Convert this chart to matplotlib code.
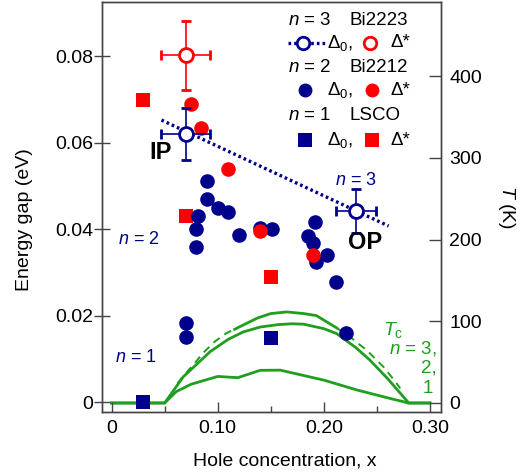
import matplotlib
matplotlib.use('Agg')
import matplotlib.pyplot as plt

plt.rcParams['font.family'] = ['Liberation Sans', 'DejaVu Sans']
plt.rcParams['mathtext.fontset'] = 'custom'
plt.rcParams['mathtext.rm'] = 'Liberation Sans'
plt.rcParams['mathtext.it'] = 'Liberation Sans:italic'
plt.rcParams['mathtext.bf'] = 'Liberation Sans:bold'

NAVY = '#00008c'
RED = '#ff0000'
GREEN = '#1f9e1f'

# Bi2212 (n = 2)
x_2212_d0 = [0.090, 0.090, 0.100, 0.110, 0.081, 0.080, 0.080, 0.120, 0.140, 0.151,
             0.192, 0.185, 0.190, 0.203, 0.193, 0.211, 0.070, 0.070, 0.221]
y_2212_d0 = [0.0511, 0.0469, 0.0449, 0.0440, 0.0431, 0.0400, 0.0359, 0.0386, 0.0402, 0.0400,
             0.0417, 0.0385, 0.0367, 0.0340, 0.0324, 0.0277, 0.0182, 0.0150, 0.0160]
x_2212_ds = [0.075, 0.084, 0.110, 0.140, 0.190]
y_2212_ds = [0.0689, 0.0634, 0.0539, 0.0395, 0.0341]

# LSCO (n = 1)
x_lsco_d0 = [0.030, 0.150]
y_lsco_d0 = [0.0, 0.0148]
x_lsco_ds = [0.030, 0.070, 0.150]
y_lsco_ds = [0.0698, 0.0430, 0.0290]

# Bi2223 (n = 3)
x_2223_d0 = [0.070, 0.230]
y_2223_d0 = [0.0620, 0.0442]
xerr_2223_d0 = [0.023, 0.019]
yerr_2223_d0 = [0.006, 0.005]
x_2223_ds = [0.070]
y_2223_ds = [0.0802]
xerr_2223_ds = [0.023]
yerr_2223_ds = [0.008]
x_trend = [0.047, 0.261]
y_trend = [0.0652, 0.0407]

# Tc curves (K)
x_tc1 = [0.0, 0.050, 0.061, 0.075, 0.100, 0.119, 0.140, 0.159, 0.200, 0.231, 0.262, 0.275, 0.279, 0.300]
t_tc1 = [0, 0, 14, 23, 32.5, 31, 40, 40.2, 28, 16, 5.7, 1.6, 0, 0]
x_tc2 = [0.0, 0.050, 0.0675, 0.093, 0.110, 0.124, 0.140, 0.157, 0.170, 0.181, 0.200,
         0.212, 0.230, 0.243, 0.260, 0.278, 0.280, 0.300]
t_tc2 = [0, 0, 32, 63, 78, 87, 93, 96, 97, 96.5, 91, 85, 68, 53, 30, 3, 0, 0]
x_tc3 = [0.116, 0.137, 0.150, 0.165, 0.181, 0.193, 0.212]
t_tc3 = [90.3, 103.8, 109.5, 111.5, 109.5, 107, 92]
x_tc3_lo = [0.062, 0.0675, 0.077, 0.086, 0.097, 0.108, 0.116]
t_tc3_lo = [24, 33, 46.6, 61, 75, 85.4, 90.3]
x_tc3_hi = [0.212, 0.2246, 0.240, 0.256, 0.265, 0.272]
t_tc3_hi = [92, 81, 65, 44.5, 30, 18]

fig = plt.figure(figsize=(5.30, 4.76), dpi=100)
ax = fig.add_axes([0.1925, 0.1345, 0.6396, 0.8613])
ax2 = ax.twinx()
ax.set_zorder(ax2.get_zorder() + 1)
ax.patch.set_visible(False)

# Tc on right axis
ax2.plot(x_tc1, t_tc1, color=GREEN, lw=2)
ax2.plot(x_tc2, t_tc2, color=GREEN, lw=2)
ax2.plot(x_tc3, t_tc3, color=GREEN, lw=2)
ax2.plot(x_tc3_lo, t_tc3_lo, color=GREEN, lw=1.4, dashes=(4, 3))
ax2.plot(x_tc3_hi, t_tc3_hi, color=GREEN, lw=1.4, dashes=(4, 3))

# gaps on left axis
ax.plot(x_trend, y_trend, color=NAVY, lw=2.4, dashes=(0.8, 0.9))
ax.plot(x_lsco_d0, y_lsco_d0, 's', color=NAVY, ms=9.5, mew=0)
ax.plot(x_lsco_ds, y_lsco_ds, 's', color=RED, ms=9.5, mew=0)
ax.plot(x_2212_d0, y_2212_d0, 'o', color=NAVY, ms=10.5, mew=0)
ax.plot(x_2212_ds, y_2212_ds, 'o', color=RED, ms=10.5, mew=0)
ax.errorbar(x_2223_d0, y_2223_d0, xerr=xerr_2223_d0, yerr=yerr_2223_d0, fmt='o',
            color=NAVY, mfc='white', mec=NAVY, ms=10, mew=2, elinewidth=1.2, capsize=3.5, capthick=1.2)
ax.errorbar(x_2223_ds, y_2223_ds, xerr=xerr_2223_ds, yerr=yerr_2223_ds, fmt='o',
            color=RED, mfc='white', mec=RED, ms=10, mew=2, elinewidth=1.2, capsize=3.5, capthick=1.2)

ax.text(0.036, 0.0576, 'IP', fontsize=17, fontweight='bold', va='center', ha='left')
ax.text(0.223, 0.0368, 'OP', fontsize=17, fontweight='bold', va='center', ha='left')
ax.text(0.2105, 0.0513, '$n$ = 3', fontsize=13, color=NAVY, va='center', ha='left')
ax.text(0.006, 0.0375, '$n$ = 2', fontsize=13, color=NAVY, va='center', ha='left')
ax.text(0.003, 0.0104, '$n$ = 1', fontsize=13, color=NAVY, va='center', ha='left')

ax2.text(0.2557, 89, r'$T_{\mathrm{c}}$', fontsize=14, color=GREEN, va='center', ha='left')
ax2.text(0.3066, 67, '$n$ = 3,', fontsize=13.5, color=GREEN, va='center', ha='right')
ax2.text(0.3066, 43, '2,', fontsize=13.5, color=GREEN, va='center', ha='right')
ax2.text(0.3030, 18, '1', fontsize=13.5, color=GREEN, va='center', ha='right')

# legend drawn by hand
T = ax.transAxes
fs = 13.5
rows = [0.956, 0.900, 0.841, 0.785, 0.724, 0.663]
ax.text(0.549, rows[0], '$n$ = 3', transform=T, fontsize=fs, va='center')
ax.text(0.729, rows[0], 'Bi2223', transform=T, fontsize=fs, va='center')
ax.plot([0.549, 0.658], [rows[1]] * 2, transform=T, color=NAVY, lw=2.4, dashes=(0.8, 0.9), clip_on=False)
ax.plot([0.593], [rows[1]], 'o', transform=T, mfc='white', mec=NAVY, ms=9, mew=2, clip_on=False)
ax.plot([0.791], [rows[1]], 'o', transform=T, mfc='white', mec=RED, ms=9, mew=2, clip_on=False)
ax.text(0.549, rows[2], '$n$ = 2', transform=T, fontsize=fs, va='center')
ax.text(0.729, rows[2], 'Bi2212', transform=T, fontsize=fs, va='center')
ax.plot([0.599], [rows[3]], 'o', transform=T, color=NAVY, ms=10, mew=0, clip_on=False)
ax.plot([0.796], [rows[3]], 'o', transform=T, color=RED, ms=10, mew=0, clip_on=False)
ax.text(0.549, rows[4], '$n$ = 1', transform=T, fontsize=fs, va='center')
ax.text(0.729, rows[4], 'LSCO', transform=T, fontsize=fs, va='center')
ax.plot([0.599], [rows[5]], 's', transform=T, color=NAVY, ms=9.5, mew=0, clip_on=False)
ax.plot([0.796], [rows[5]], 's', transform=T, color=RED, ms=9.5, mew=0, clip_on=False)
for r in (rows[1], rows[3], rows[5]):
    ax.text(0.664, r, r'$\Delta_0$,', transform=T, fontsize=fs, va='center')
    ax.text(0.850, r, 'Δ*', transform=T, fontsize=fs, va='center')

# axes
ax.set_xlim(-0.009, 0.3104)
ax.set_ylim(-0.0023, 0.0925)
ax2.set_ylim(-11, 491)
ax.set_xticks([0, 0.1, 0.2, 0.3])
ax.set_xticklabels(['0', '0.10', '0.20', '0.30'])
ax.set_xticks([0.05, 0.15, 0.25], minor=True)
ax.set_yticks([0, 0.02, 0.04, 0.06, 0.08])
ax.set_yticklabels(['0', '0.02', '0.04', '0.06', '0.08'])
ax2.set_yticks([0, 100, 200, 300, 400])

ax.tick_params(axis='x', which='major', direction='in', length=7.5, width=1, labelsize=14, pad=6, color='#444444')
ax.tick_params(axis='x', which='minor', direction='in', length=4, width=1, color='#444444')
ax.tick_params(axis='y', direction='inout', length=11, width=1, labelsize=14, pad=1, color='#444444')
ax2.tick_params(axis='y', direction='in', length=8.5, width=1, labelsize=14, pad=6, color='#444444')

for a in (ax, ax2):
    for s in a.spines.values():
        s.set_color('#444444')
        s.set_linewidth(1)

ax.set_xlabel('Hole concentration, x', fontsize=14)
ax.xaxis.set_label_coords(0.54, -0.098)
ax.set_ylabel('Energy gap (eV)', fontsize=14)
ax.yaxis.set_label_coords(-0.2035, 0.47)
fig.text(0.9566, 0.565, '$T$ (K)', fontsize=14, rotation=270, ha='center', va='center')

fig.savefig('out.png', dpi=100)
